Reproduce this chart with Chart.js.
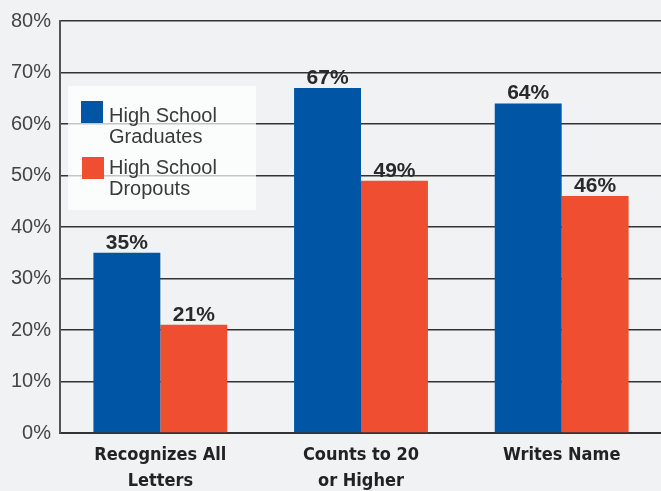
<!DOCTYPE html>
<html>
<head>
<meta charset="utf-8">
<script src="https://cdn.jsdelivr.net/npm/chart.js@4.4.1/dist/chart.umd.min.js"></script>
<style>
  html, body { margin: 0; padding: 0; background: #f1f2f4; overflow: hidden; }
  #wrap { width: 662px; height: 491px; position: relative; }
</style>
</head>
<body>
<div id="wrap"><canvas id="c"></canvas></div>
<script>
const categories = [["Recognizes All", "Letters"], ["Counts to 20", "or Higher"], ["Writes Name"]];
const seriesNames = [["High School", "Graduates"], ["High School", "Dropouts"]];
const graduates = [35, 67, 64];
const dropouts = [21, 49, 46];
const yTicks = [0, 10, 20, 30, 40, 50, 60, 70, 80];

const BLUE = '#0055a5';
const RED = '#ef4e30';

const valueLabels = {
  id: 'valueLabels',
  afterDatasetsDraw(chart) {
    const ctx = chart.ctx;
    ctx.save();
    ctx.font = 'bold 21px "Liberation Sans", Arial, sans-serif';
    ctx.fillStyle = '#2a2a2a';
    ctx.textAlign = 'center';
    ctx.textBaseline = 'alphabetic';
    chart.data.datasets.forEach((ds, i) => {
      chart.getDatasetMeta(i).data.forEach((bar, j) => {
        ctx.fillText(ds.data[j] + '%', bar.x, bar.y - 4);
      });
    });
    ctx.restore();
  }
};

const boxLegend = {
  id: 'boxLegend',
  afterDraw(chart) {
    const ctx = chart.ctx;
    ctx.save();
    ctx.fillStyle = 'rgba(255,255,255,0.72)';
    ctx.fillRect(68, 86, 188, 124);
    const rows = [
      { sx: 81, sy: 101, base: 121.7 },
      { sx: 82, sy: 157, base: 174 }
    ];
    ctx.font = '20px "Liberation Sans", Arial, sans-serif';
    ctx.textAlign = 'left';
    ctx.textBaseline = 'alphabetic';
    chart.data.datasets.forEach((ds, i) => {
      const r = rows[i];
      ctx.fillStyle = ds.backgroundColor;
      ctx.fillRect(r.sx, r.sy, 22, 22);
      ctx.fillStyle = '#3a3a3a';
      ds.label.forEach((line, k) => {
        ctx.fillText(line, 109, r.base + k * 21);
      });
    });
    ctx.restore();
  }
};

new Chart(document.getElementById('c'), {
  type: 'bar',
  data: {
    labels: categories,
    datasets: [
      { label: seriesNames[0], data: graduates, backgroundColor: BLUE },
      { label: seriesNames[1], data: dropouts, backgroundColor: RED }
    ]
  },
  options: {
    responsive: true,
    maintainAspectRatio: false,
    animation: false,
    layout: { padding: { top: 17, right: 0, left: 0, bottom: 0 } },
    datasets: { bar: { categoryPercentage: 0.667, barPercentage: 1.0 } },
    plugins: { legend: { display: false }, tooltip: { enabled: false } },
    scales: {
      x: {
        grid: { display: false, drawTicks: false },
        border: { color: '#333', width: 2 },
        ticks: {
          color: '#222',
          font: { family: '"DejaVu Sans Condensed", "Liberation Sans Narrow", Arial, sans-serif', size: 18, weight: 'bold', lineHeight: 1.45 },
          padding: 9,
          maxRotation: 0
        },
        afterFit(scale) { scale.height = 58; }
      },
      y: {
        min: 0, max: 80,
        afterBuildTicks(scale) { scale.ticks = yTicks.map(v => ({ value: v })); },
        grid: { color: '#333', lineWidth: 1.5, drawTicks: false },
        border: { color: '#555', width: 2 },
        ticks: {
          color: '#444',
          font: { family: '"Liberation Sans", Arial, sans-serif', size: 20 },
          padding: 9,
          callback: v => v + '%'
        },
        afterFit(scale) { scale.width = 60; }
      }
    }
  },
  plugins: [valueLabels, boxLegend]
});
</script>
</body>
</html>
